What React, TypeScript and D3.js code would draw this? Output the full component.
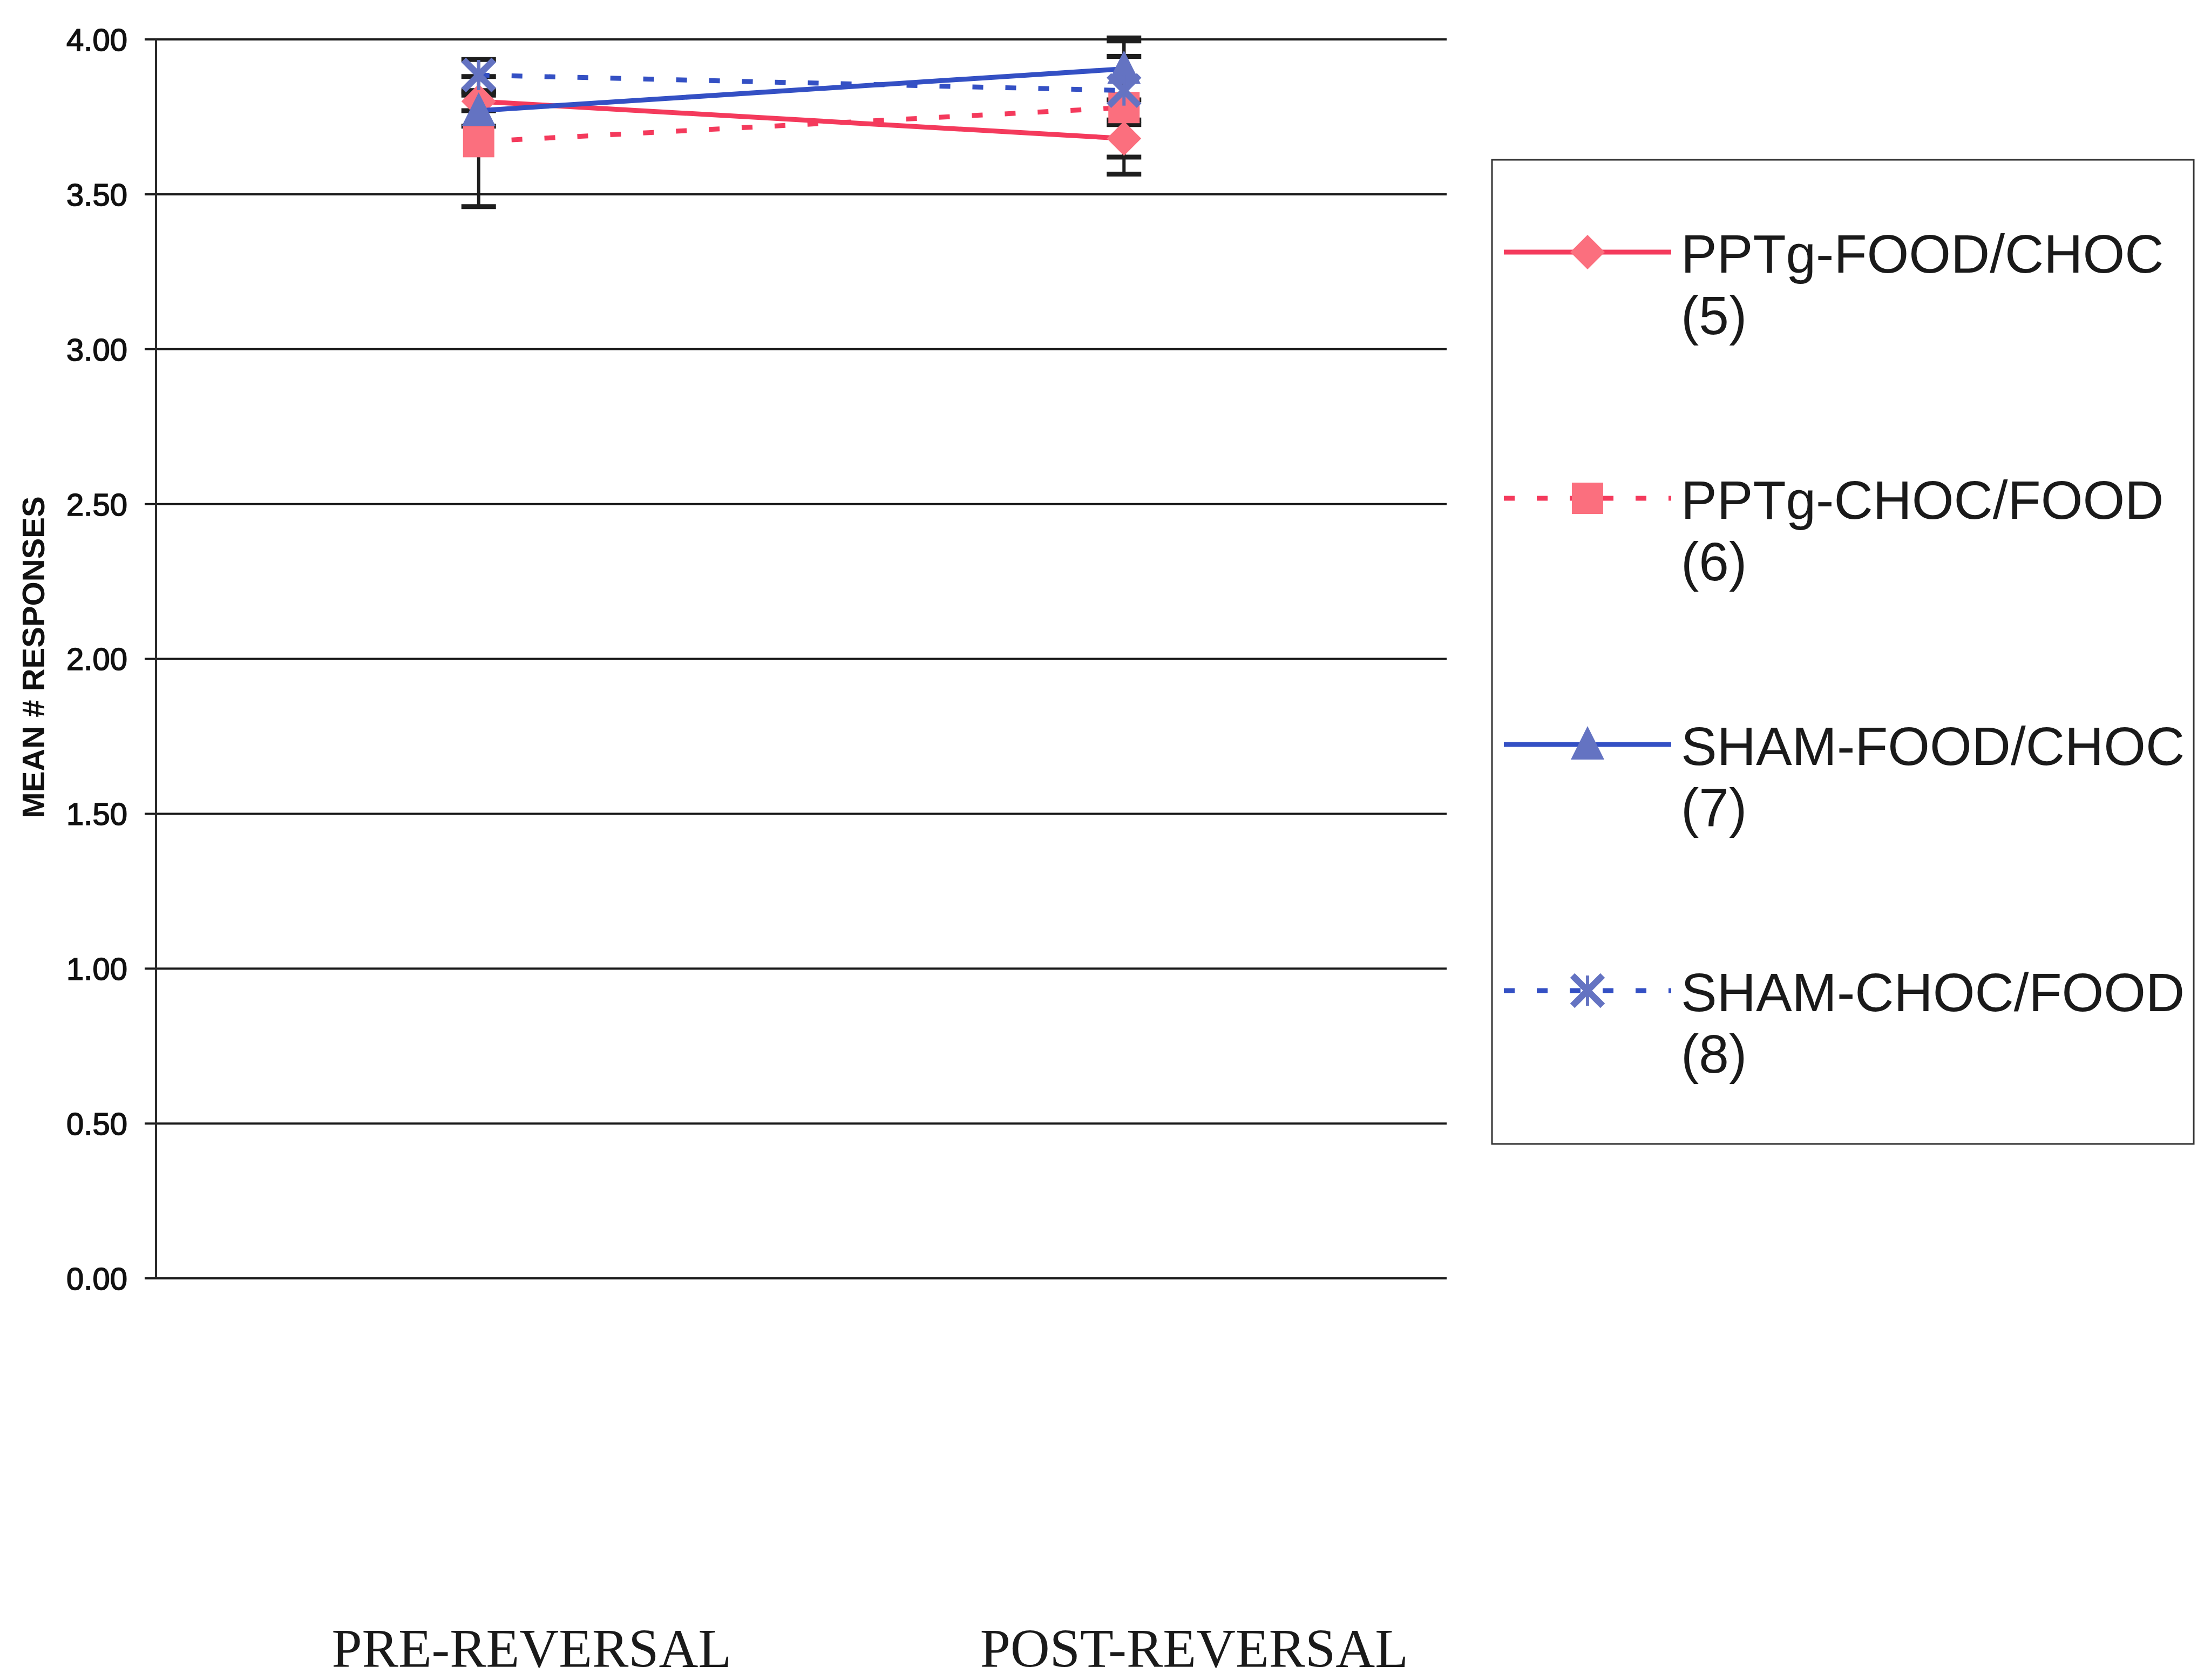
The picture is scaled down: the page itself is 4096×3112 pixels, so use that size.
import React from "react";
import * as d3 from "d3";

// Group means and standard errors for the two test phases
const categories = ["PRE-REVERSAL", "POST-REVERSAL"];
const seriesNames = ["PPTg-FOOD/CHOC", "PPTg-CHOC/FOOD", "SHAM-FOOD/CHOC", "SHAM-CHOC/FOOD"];
const seriesCounts = ["(5)", "(6)", "(7)", "(8)"];
const pptgFoodChoc = [3.80, 3.68];
const pptgChocFood = [3.67, 3.78];
const shamFoodChoc = [3.77, 3.905];
const shamChocFood = [3.885, 3.835];
const pptgFoodChocErr = [0.03, 0.06];
const pptgChocFoodErr = [0.21, 0.215];
const shamFoodChocErr = [0.05, 0.10];
const shamChocFoodErr = [0.05, 0.11];
const yTicks = [0, 0.5, 1, 1.5, 2, 2.5, 3, 3.5, 4];

type Marker = "diamond" | "square" | "triangle" | "star";

const RED_LINE = "#f43a5c";
const RED_MARK = "#fb6f7e";
const BLUE_LINE = "#3450c4";
const BLUE_MARK = "#6473c2";

const series = [
  { name: seriesNames[0], n: seriesCounts[0], values: pptgFoodChoc, err: pptgFoodChocErr, line: RED_LINE, mark: RED_MARK, dotted: false, marker: "diamond" as Marker },
  { name: seriesNames[1], n: seriesCounts[1], values: pptgChocFood, err: pptgChocFoodErr, line: RED_LINE, mark: RED_MARK, dotted: true, marker: "square" as Marker },
  { name: seriesNames[2], n: seriesCounts[2], values: shamFoodChoc, err: shamFoodChocErr, line: BLUE_LINE, mark: BLUE_MARK, dotted: false, marker: "triangle" as Marker },
  { name: seriesNames[3], n: seriesCounts[3], values: shamChocFood, err: shamChocFoodErr, line: BLUE_LINE, mark: BLUE_MARK, dotted: true, marker: "star" as Marker },
];

// Layout
const W = 4096;
const H = 3112;
const PLOT_LEFT = 289;
const PLOT_RIGHT = 2680;
const PLOT_TOP = 73;
const PLOT_BOTTOM = 2368;
const TICK_LEN = 21;
const CAT_LABEL_SHIFT = [98, 130];
const CAT_LABEL_BASELINE = 3088;
const LEGEND = { x: 2764, y: 296, w: 1300, h: 1823, firstRow: 467, rowGap: 456, lineX0: 2786, lineX1: 3096, markX: 2941, textX: 3114 };
const SANS = "'Liberation Sans', Arial, Helvetica, sans-serif";
const SERIF = "'Liberation Serif', 'Times New Roman', serif";
const LINE_W = 9;
const DASH = "20 41";

function MarkerShape({ kind, x, y, color }: { kind: Marker; x: number; y: number; color: string }) {
  if (kind === "diamond") {
    const r = 32;
    return <path d={`M${x},${y - r}L${x + r},${y}L${x},${y + r}L${x - r},${y}Z`} fill={color} />;
  }
  if (kind === "square") {
    const s = 29;
    return <rect x={x - s} y={y - s} width={2 * s} height={2 * s} fill={color} />;
  }
  if (kind === "triangle") {
    const hw = 31;
    return <path d={`M${x},${y - 34}L${x + hw},${y + 28}L${x - hw},${y + 28}Z`} fill={color} />;
  }
  const r = 28;
  return (
    <g stroke={color} strokeWidth={12} strokeLinecap="butt">
      <line x1={x - r} y1={y - r} x2={x + r} y2={y + r} />
      <line x1={x - r} y1={y + r} x2={x + r} y2={y - r} />
      <line x1={x} y1={y - r} x2={x} y2={y + r} strokeWidth={6} />
    </g>
  );
}

export default function App() {
  const x = d3.scaleBand<string>().domain(categories).range([PLOT_LEFT, PLOT_RIGHT]);
  const cx = (c: string) => (x(c) as number) + x.bandwidth() / 2;
  const y = d3.scaleLinear().domain([0, 4]).range([PLOT_BOTTOM, PLOT_TOP]);
  const fmt = d3.format(".2f");
  const line = d3
    .line<number>()
    .x((_, i) => cx(categories[i]))
    .y((v) => y(v));

  return (
    <svg
      width={W}
      height={H}
      viewBox={`0 0 ${W} ${H}`}
      style={{ position: "absolute", left: 0, top: 0, background: "#fff" }}
    >
      <rect x={0} y={0} width={W} height={H} fill="#fff" />

      {/* gridlines with their tick marks */}
      {yTicks.map((t) => (
        <line
          key={t}
          x1={PLOT_LEFT - TICK_LEN}
          x2={PLOT_RIGHT}
          y1={y(t)}
          y2={y(t)}
          stroke="#1a1a1a"
          strokeWidth={4}
        />
      ))}
      {/* value axis */}
      <line x1={PLOT_LEFT} x2={PLOT_LEFT} y1={y(4)} y2={y(0)} stroke="#2a2a2a" strokeWidth={4} />

      {yTicks.map((t) => (
        <text
          key={t}
          x={236}
          y={y(t)}
          dy="0.36em"
          textAnchor="end"
          fontFamily={SANS}
          fontSize={58}
          fill="#111"
          stroke="#111"
          strokeWidth={1.6}
        >
          {fmt(t)}
        </text>
      ))}

      <text
        transform={`translate(61, ${(PLOT_TOP + PLOT_BOTTOM) / 2 - 3}) rotate(-90)`}
        dy="0.36em"
        textAnchor="middle"
        fontFamily={SANS}
        fontWeight="bold"
        fontSize={58}
        fill="#111"
      >
        MEAN # RESPONSES
      </text>

      {categories.map((c, i) => (
        <text
          key={c}
          x={cx(c) + CAT_LABEL_SHIFT[i]}
          y={CAT_LABEL_BASELINE}
          textAnchor="middle"
          fontFamily={SERIF}
          fontSize={101}
          fill="#1a1a1a"
        >
          {c}
        </text>
      ))}

      {/* error bars */}
      {series.map((s) =>
        s.values.map((v, i) => {
          const px = cx(categories[i]);
          const lo = y(v - s.err[i]);
          const hi = y(v + s.err[i]);
          return (
            <g key={s.name + i} stroke="#1e1e1e" strokeWidth={9}>
              <line x1={px} x2={px} y1={lo} y2={hi} strokeWidth={6} />
              <line x1={px - 32} x2={px + 32} y1={lo} y2={lo} />
              <line x1={px - 32} x2={px + 32} y1={hi} y2={hi} />
            </g>
          );
        })
      )}

      {/* series lines and markers */}
      {series.map((s) => (
        <g key={s.name}>
          <path
            d={line(s.values) || ""}
            fill="none"
            stroke={s.line}
            strokeWidth={LINE_W}
            strokeDasharray={s.dotted ? DASH : undefined}
          />
          {s.values.map((v, i) => (
            <MarkerShape key={i} kind={s.marker} x={cx(categories[i])} y={y(v)} color={s.mark} />
          ))}
        </g>
      ))}

      {/* legend */}
      <rect
        x={LEGEND.x}
        y={LEGEND.y}
        width={LEGEND.w}
        height={LEGEND.h}
        fill="#fff"
        stroke="#333"
        strokeWidth={3}
      />
      {series.map((s, i) => {
        const ly = LEGEND.firstRow + i * LEGEND.rowGap;
        return (
          <g key={s.name}>
            <line
              x1={LEGEND.lineX0}
              x2={LEGEND.lineX1}
              y1={ly}
              y2={ly}
              stroke={s.line}
              strokeWidth={LINE_W}
              strokeDasharray={s.dotted ? DASH : undefined}
            />
            <MarkerShape kind={s.marker} x={LEGEND.markX} y={ly} color={s.mark} />
            <text x={LEGEND.textX} y={ly + 38} fontFamily={SANS} fontSize={100} fill="#1a1a1a">
              {s.name}
            </text>
            <text x={LEGEND.textX} y={ly + 152} fontFamily={SANS} fontSize={100} fill="#1a1a1a">
              {s.n}
            </text>
          </g>
        );
      })}
    </svg>
  );
}
